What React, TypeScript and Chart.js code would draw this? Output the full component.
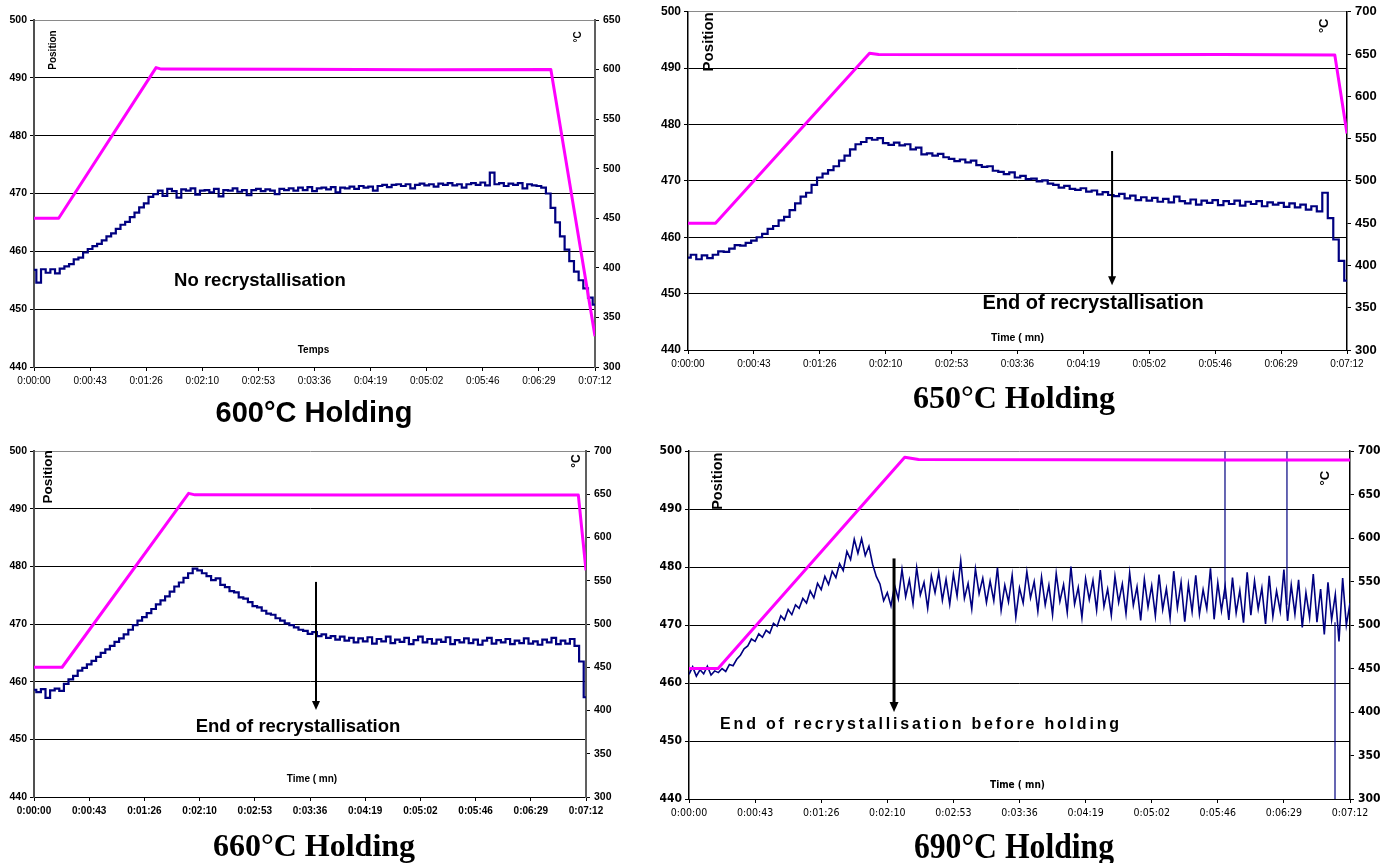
import React, { useEffect, useRef } from "react";
import { Chart, registerables } from "chart.js";

Chart.register(...registerables);

const SANS = "'Liberation Sans', Arial, Helvetica, sans-serif";
const NARROW = "'Liberation Sans Narrow', 'DejaVu Sans Condensed', 'Liberation Sans', sans-serif";
const SERIF = "'Liberation Serif', 'Times New Roman', serif";
const NAVY = "#000080";
const MAGENTA = "#FF00FF";

// ---------- shared axis data ----------
const X_TICK_SECONDS = [0, 43.2, 86.4, 129.6, 172.8, 216, 259.2, 302.4, 345.6, 388.8, 432];
const X_TICK_LABELS = ["0:00:00", "0:00:43", "0:01:26", "0:02:10", "0:02:53", "0:03:36", "0:04:19", "0:05:02", "0:05:46", "0:06:29", "0:07:12"];
const POSITION_TICKS = [440, 450, 460, 470, 480, 490, 500];
const TEMP_TICKS_650 = [300, 350, 400, 450, 500, 550, 600, 650];
const TEMP_TICKS_700 = [300, 350, 400, 450, 500, 550, 600, 650, 700];

// ---------- 600 °C holding ----------
const P600_STEP_S = 3.6;
const P600_POSITION = [
  456.8, 454.6, 456.9, 456.3, 456.9, 456.2, 457.0, 457.4, 457.8, 458.6,
  458.9, 459.8, 460.4, 460.9, 461.3, 461.9, 462.6, 463.1, 463.9, 464.6,
  465.1, 465.9, 466.7, 467.6, 468.3, 469.4, 469.9, 470.5, 469.6, 470.8,
  470.4, 469.3, 470.7, 470.5, 470.9, 469.8, 470.5, 470.6, 470.2, 470.8,
  469.5, 470.6, 470.5, 470.9, 470.3, 470.6, 469.7, 470.6, 470.8, 470.4,
  470.7, 470.5, 469.9, 470.8, 470.6, 470.9, 470.5, 471.0, 470.6, 471.1,
  470.4, 470.9, 471.0, 470.7, 471.1, 470.2, 471.0, 470.9, 471.2, 470.8,
  471.3, 471.0, 471.2, 470.5, 471.3, 471.5, 471.1, 471.5, 471.6, 471.3,
  471.6, 470.9, 471.5, 471.7, 471.4, 471.6, 471.2, 471.7, 471.5, 471.8,
  471.4, 471.6, 471.0, 471.6, 471.8, 471.5, 471.9, 471.4, 473.6, 471.6,
  471.8, 471.3, 471.7, 471.5, 471.8, 470.9, 471.6, 471.4, 471.3, 471.0,
  470.0, 467.5, 465.0, 462.6, 460.3, 458.3, 456.5, 455.0, 453.6, 452.0,
  450.8,
];
const P600_TEMP_TIME = [0, 19, 94, 98, 200, 300, 398, 432];
const P600_TEMP = [450, 450, 602, 600.5, 600.3, 599.8, 600, 331];

// ---------- 650 °C holding ----------
const P650_STEP_S = 3.6;
const P650_POSITION = [
  456.4, 456.9, 456.1, 456.8, 456.3, 456.9, 457.5, 457.4, 458.0, 458.6,
  458.5, 459.0, 459.4, 460.0, 460.6, 461.5, 462.0, 463.0, 463.6, 464.8,
  466.0, 467.2, 467.9, 469.3, 470.6, 471.3, 471.9, 472.6, 473.6, 474.5,
  475.6, 476.5, 476.9, 477.6, 477.3, 477.6, 476.7, 476.4, 476.8, 476.3,
  476.5, 475.6, 475.9, 474.7, 474.9, 474.5, 474.8, 474.2, 473.9, 473.5,
  473.8, 473.3, 473.6, 472.8, 472.5, 472.6, 471.8, 471.6, 471.2, 471.5,
  470.6, 470.9, 470.3, 470.4, 469.9, 470.1, 469.5, 469.3, 468.8, 469.1,
  468.6, 468.4, 468.7, 468.1, 468.3, 467.6, 468.0, 467.5, 467.3, 467.7,
  466.9, 467.4, 466.6, 467.1, 466.5, 467.0, 466.3, 466.8, 466.2, 467.2,
  466.4, 466.0, 466.7, 465.8, 466.5, 466.1, 466.6, 465.7, 466.4, 465.9,
  466.5, 465.6, 466.3, 465.9, 466.4, 465.5, 466.2, 465.8, 466.1, 465.4,
  466.0, 465.3, 465.8, 464.9, 465.5, 464.6, 467.9, 463.4, 459.6, 455.8,
  452.3,
];
const P650_TEMP_TIME = [0, 18, 119, 125, 250, 350, 424, 432];
const P650_TEMP = [450, 450, 651, 649.5, 649.3, 649.6, 649, 556];

// ---------- 660 °C holding ----------
const P660_STEP_S = 3.6;
const P660_POSITION = [
  458.6, 458.2, 458.7, 457.2, 458.5, 458.8, 458.4, 459.6, 460.4, 461.0,
  461.9, 462.4, 463.0, 463.6, 464.3, 465.0, 465.6, 466.2, 466.9, 467.5,
  468.2, 469.0, 469.8, 470.6, 471.2, 471.9, 472.6, 473.4, 474.1, 474.8,
  475.6, 476.5, 477.2, 478.0, 478.8, 479.6, 479.3, 478.8, 478.3, 477.6,
  477.9, 476.8, 476.4, 475.7, 475.5, 474.6, 474.4, 473.8, 473.1, 472.9,
  472.3, 471.8, 471.6, 471.0, 470.6, 470.1, 469.8, 469.4, 469.0, 468.8,
  468.3, 468.6, 467.9, 468.2, 467.6, 467.9, 467.3, 467.8, 467.1, 467.6,
  466.8, 467.5, 467.0, 467.7, 466.6, 467.4, 467.0, 467.8, 466.7, 467.3,
  466.9, 467.6, 466.5, 467.2, 467.8, 466.8, 467.4, 466.6, 467.3, 466.9,
  467.7, 466.5, 467.2, 466.8, 467.5, 466.7, 467.3, 466.4, 467.1, 467.6,
  466.6, 467.2, 466.8, 467.4, 466.5, 467.1, 466.7, 467.5, 466.6, 467.0,
  466.4, 467.3, 466.8, 467.6, 466.5, 467.1, 466.6, 467.4, 466.2, 463.5,
  457.3,
];
const P660_TEMP_TIME = [0, 22, 121, 126, 250, 350, 426, 432];
const P660_TEMP = [450, 450, 651, 649.3, 649, 649.2, 649, 562];

// ---------- 690 °C holding ----------
const P690_STEP_S = 2.4;
const P690_POSITION = [
  461.5, 462.8, 461.2, 462.3, 461.6, 462.9, 461.4, 462.1, 461.8, 462.5,
  462.0, 463.2, 463.0, 464.1, 464.8, 465.9, 466.4, 467.6, 467.2, 468.5,
  467.9, 469.1, 468.6, 470.3, 469.8, 471.6, 470.9, 472.7, 471.8, 473.5,
  472.9, 474.6, 473.8, 475.9, 474.7, 477.2, 476.1, 478.4, 477.0, 479.3,
  478.2, 480.6, 479.4, 482.7, 481.3, 484.8, 482.4, 484.9, 482.0, 483.6,
  480.5, 478.4, 477.1, 474.2, 475.6, 473.3, 476.8, 474.5, 479.6, 474.9,
  477.8, 473.7, 479.9, 475.2, 477.4, 472.9, 478.5, 475.6, 479.1, 474.3,
  477.9, 473.6, 478.8, 475.0, 481.1, 474.6, 477.2, 472.8, 479.7, 475.4,
  478.1, 473.9, 477.6, 474.2, 479.9, 472.6, 476.9, 474.0, 478.6, 471.4,
  476.4, 473.8, 479.2, 474.7, 477.5, 472.4, 478.3, 473.5, 476.9, 471.8,
  478.9, 474.1, 477.0, 472.2, 480.1, 473.6, 476.5, 471.3, 478.0, 474.4,
  477.7, 472.6, 479.5, 473.2, 476.2, 471.7, 478.4, 473.9, 477.1, 472.0,
  479.0, 473.4, 476.6, 470.8, 477.9, 473.1, 476.8, 471.6, 478.7, 472.7,
  476.3, 471.2, 479.3, 473.0, 477.4, 470.6, 477.0, 472.3, 478.6, 471.9,
  476.1, 472.8, 479.8, 471.0, 477.3, 472.5, 476.7, 470.9, 478.2, 472.1,
  476.0, 470.4, 479.1, 471.7, 477.6, 472.8, 476.4, 470.2, 478.5, 471.5,
  475.9, 472.4, 479.6, 470.7, 476.9, 471.9, 477.8, 469.6, 475.6, 471.3,
  478.8, 470.5, 476.2, 468.4, 477.4, 470.9, 475.3, 467.2, 478.1, 470.0,
  473.8,
];
const P690_SPIKE_TIME = [350.3, 390.8, 422.2];
const P690_SPIKE_FROM = [474.5, 473.5, 470.5];
const P690_SPIKE_TO = [504, 504, 436];
const P690_TEMP_TIME = [0, 19, 141, 150, 250, 350, 432];
const P690_TEMP = [450, 450, 693, 690.5, 690.2, 690, 690];

// ---------- panel descriptions ----------
type Lab = { text: string; ax: "left" | "right" | "center"; ay: "top" | "bottom"; dx: number; dy: number; rot: boolean; font: string };
type PanelCfg = {
  key: string;
  box: { x: number; y: number; w: number; h: number };
  leftW: number; rightW: number; padTop: number; bottomH: number;
  tempTicks: number[];
  step: number; position: number[];
  tempTime: number[]; temp: number[];
  spikes?: { t: number[]; from: number[]; to: number[] };
  leftFont: any; rightFont: any; xFont: any;
  leftBorder: string; leftBorderW: number; rightBorder: string; rightBorderW: number;
  blueWidth: number; blueStepped: boolean;
  labels: Lab[];
  arrow?: { t: number; from: number; to: number; width: number; head: number; headW: number };
  note: { text: string; t: number; v: number; font: string; spacing?: string };
};

const PANELS: PanelCfg[] = [
  {
    key: "p600",
    box: { x: 0, y: 0, w: 640, h: 400 },
    leftW: 34, rightW: 45, padTop: 20, bottomH: 33,
    tempTicks: TEMP_TICKS_650,
    step: P600_STEP_S, position: P600_POSITION,
    tempTime: P600_TEMP_TIME, temp: P600_TEMP,
    leftFont: { family: SANS, size: 10.5, weight: "bold" },
    rightFont: { family: SANS, size: 10.5, weight: "bold" },
    xFont: { family: SANS, size: 10, weight: "normal" },
    leftBorder: "#505050", leftBorderW: 2, rightBorder: "#606060", rightBorderW: 2,
    blueWidth: 2.2, blueStepped: true,
    labels: [
      { text: "Position", ax: "left", ay: "top", dx: 19, dy: 30, rot: true, font: `bold 10px ${SANS}` },
      { text: "°C", ax: "right", ay: "top", dx: -17, dy: 17, rot: true, font: `bold 10px ${SANS}` },
      { text: "Temps", ax: "center", ay: "bottom", dx: -1, dy: -17, rot: false, font: `bold 10px ${SANS}` },
    ],
    note: { text: "No recrystallisation", t: 174, v: 454.9, font: `bold 18.5px ${SANS}` },
  },
  {
    key: "p650",
    box: { x: 640, y: 0, w: 754, h: 385 },
    leftW: 48, rightW: 47, padTop: 10, bottomH: 35,
    tempTicks: TEMP_TICKS_700,
    step: P650_STEP_S, position: P650_POSITION,
    tempTime: P650_TEMP_TIME, temp: P650_TEMP,
    leftFont: { family: SANS, size: 12, weight: "bold" },
    rightFont: { family: SANS, size: 13, weight: "bold" },
    xFont: { family: SANS, size: 10, weight: "normal" },
    leftBorder: "#000000", leftBorderW: 1.5, rightBorder: "#000000", rightBorderW: 1.5,
    blueWidth: 2.2, blueStepped: true,
    labels: [
      { text: "Position", ax: "left", ay: "top", dx: 21, dy: 30, rot: true, font: `bold 15px ${SANS}` },
      { text: "°C", ax: "right", ay: "top", dx: -23, dy: 14, rot: true, font: `bold 13px ${SANS}` },
      { text: "Time ( mn)", ax: "center", ay: "bottom", dx: 0, dy: -12, rot: false, font: `bold 10.5px ${SANS}` },
    ],
    arrow: { t: 278, from: 475.3, to: 451.5, width: 2, head: 9, headW: 8 },
    note: { text: "End of recrystallisation", t: 265.5, v: 448.3, font: `bold 20px ${SANS}` },
  },
  {
    key: "p660",
    box: { x: 0, y: 440, w: 640, h: 390 },
    leftW: 34, rightW: 54, padTop: 11, bottomH: 33,
    tempTicks: TEMP_TICKS_700,
    step: P660_STEP_S, position: P660_POSITION,
    tempTime: P660_TEMP_TIME, temp: P660_TEMP,
    leftFont: { family: SANS, size: 10.5, weight: "bold" },
    rightFont: { family: SANS, size: 10.5, weight: "bold" },
    xFont: { family: SANS, size: 10, weight: "bold" },
    leftBorder: "#505050", leftBorderW: 2, rightBorder: "#606060", rightBorderW: 2,
    blueWidth: 2.2, blueStepped: true,
    labels: [
      { text: "Position", ax: "left", ay: "top", dx: 14, dy: 26, rot: true, font: `bold 13.5px ${SANS}` },
      { text: "°C", ax: "right", ay: "top", dx: -9, dy: 10, rot: true, font: `bold 12px ${SANS}` },
      { text: "Time ( mn)", ax: "center", ay: "bottom", dx: 2, dy: -18, rot: false, font: `bold 10px ${SANS}` },
    ],
    arrow: { t: 220.7, from: 477.3, to: 455.1, width: 2, head: 9, headW: 8 },
    note: { text: "End of recrystallisation", t: 206.6, v: 452.2, font: `bold 18.5px ${SANS}` },
  },
  {
    key: "p690",
    box: { x: 640, y: 440, w: 754, h: 392 },
    leftW: 49, rightW: 44, padTop: 11, bottomH: 33,
    tempTicks: TEMP_TICKS_700,
    step: P690_STEP_S, position: P690_POSITION,
    tempTime: P690_TEMP_TIME, temp: P690_TEMP,
    spikes: { t: P690_SPIKE_TIME, from: P690_SPIKE_FROM, to: P690_SPIKE_TO },
    leftFont: { family: NARROW, size: 12, weight: "bold" },
    rightFont: { family: NARROW, size: 12, weight: "bold" },
    xFont: { family: NARROW, size: 10.5, weight: "normal" },
    leftBorder: "#000000", leftBorderW: 1.5, rightBorder: "#000000", rightBorderW: 1.5,
    blueWidth: 1.6, blueStepped: false,
    labels: [
      { text: "Position", ax: "left", ay: "top", dx: 29, dy: 30, rot: true, font: `bold 14.5px ${SANS}` },
      { text: "°C", ax: "right", ay: "top", dx: -25, dy: 27, rot: true, font: `bold 13px ${SANS}` },
      { text: "Time ( mn)", ax: "center", ay: "bottom", dx: -2, dy: -14, rot: false, font: `bold 10px ${NARROW}` },
    ],
    arrow: { t: 134, from: 481.5, to: 455, width: 3, head: 10, headW: 9 },
    note: { text: "End of recrystallisation before holding", t: 151.6, v: 452.9, font: `bold 16px ${SANS}`, spacing: "2.8px" },
  },
];

const TITLES = [
  { text: "600°C Holding", cx: 314, cy: 412, font: `bold 29px ${SANS}`, scaleX: 1 },
  { text: "650°C Holding", cx: 1014, cy: 397, font: `bold 32px ${SERIF}`, scaleX: 1 },
  { text: "660°C Holding", cx: 314, cy: 845, font: `bold 32px ${SERIF}`, scaleX: 1 },
  { text: "690°C Holding", cx: 1014, cy: 846, font: `bold 36px ${SERIF}`, scaleX: 0.88 },
];

function overlayPlugin(cfg: PanelCfg) {
  return {
    id: "overlay_" + cfg.key,
    afterDatasetsDraw(chart: any) {
      const { ctx, chartArea: a, scales } = chart;
      const xs = scales.x;
      const ys = scales.y;
      ctx.save();
      ctx.fillStyle = "#000";
      ctx.strokeStyle = "#000";
      for (const lab of cfg.labels) {
        const ax = lab.ax === "left" ? a.left : lab.ax === "right" ? a.right : (a.left + a.right) / 2;
        const ay = lab.ay === "top" ? a.top : a.bottom;
        ctx.save();
        ctx.translate(ax + lab.dx, ay + lab.dy);
        if (lab.rot) ctx.rotate(-Math.PI / 2);
        ctx.font = lab.font;
        ctx.textAlign = "center";
        ctx.textBaseline = "middle";
        ctx.fillText(lab.text, 0, 0);
        ctx.restore();
      }
      if (cfg.arrow) {
        const ar = cfg.arrow;
        const x = xs.getPixelForValue(ar.t);
        const y0 = ys.getPixelForValue(ar.from);
        const y1 = ys.getPixelForValue(ar.to);
        ctx.lineWidth = ar.width;
        ctx.beginPath();
        ctx.moveTo(x, y0);
        ctx.lineTo(x, y1 - ar.head + 1);
        ctx.stroke();
        ctx.beginPath();
        ctx.moveTo(x - ar.headW / 2, y1 - ar.head);
        ctx.lineTo(x + ar.headW / 2, y1 - ar.head);
        ctx.lineTo(x, y1);
        ctx.closePath();
        ctx.fill();
      }
      const n = cfg.note;
      ctx.font = n.font;
      (ctx as any).letterSpacing = n.spacing || "0px";
      ctx.textAlign = "center";
      ctx.textBaseline = "middle";
      ctx.fillText(n.text, xs.getPixelForValue(n.t), ys.getPixelForValue(n.v));
      ctx.restore();
    },
  };
}

function buildConfig(cfg: PanelCfg): any {
  const blue = cfg.position.map((v, i) => ({ x: i * cfg.step, y: v }));
  const temp = cfg.tempTime.map((t, i) => ({ x: t, y: cfg.temp[i] }));
  const datasets: any[] = [
    {
      label: "°C", data: temp, yAxisID: "y2", borderColor: MAGENTA, borderWidth: 3,
      pointRadius: 0, tension: 0, order: 0, borderJoinStyle: "round",
    },
    {
      label: "Position", data: blue, yAxisID: "y", borderColor: NAVY, borderWidth: cfg.blueWidth,
      pointRadius: 0, tension: 0, order: 1, stepped: cfg.blueStepped ? "middle" : false,
    },
  ];
  if (cfg.spikes) {
    cfg.spikes.t.forEach((t, i) => {
      datasets.push({
        label: "spike" + i,
        data: [{ x: t, y: cfg.spikes!.from[i] }, { x: t, y: cfg.spikes!.to[i] }],
        yAxisID: "y", borderColor: NAVY, borderWidth: 1.2, pointRadius: 0, order: 2,
      });
    });
  }
  const tickList = (arr: number[]) => (s: any) => {
    s.ticks = arr.map((v) => ({ value: v }));
  };
  return {
    type: "line",
    data: { datasets },
    options: {
      responsive: false,
      maintainAspectRatio: false,
      animation: false,
      events: [],
      layout: { padding: { top: cfg.padTop, left: 0, right: 0, bottom: 0 } },
      plugins: { legend: { display: false }, tooltip: { enabled: false }, title: { display: false } },
      scales: {
        x: {
          type: "linear", position: "bottom", min: 0, max: 432,
          afterBuildTicks: tickList(X_TICK_SECONDS),
          afterFit: (s: any) => { s.height = cfg.bottomH; },
          ticks: {
            autoSkip: false, maxRotation: 0, minRotation: 0, padding: 4, color: "#000",
            font: cfg.xFont, callback: (_v: any, i: number) => X_TICK_LABELS[i],
          },
          grid: { drawOnChartArea: false, drawTicks: true, tickLength: 4, color: "#000", lineWidth: 1 },
          border: { display: true, color: "#000", width: 1 },
        },
        y: {
          type: "linear", position: "left", min: 440, max: 500,
          afterBuildTicks: tickList(POSITION_TICKS),
          afterFit: (s: any) => { s.width = cfg.leftW; },
          ticks: { padding: 3, color: "#000", font: cfg.leftFont, autoSkip: false },
          grid: {
            drawOnChartArea: true, drawTicks: true, tickLength: 4, lineWidth: 1,
            color: (c: any) => (c.tick && c.tick.value === 500 ? "#8a8a8a" : "#000"),
            tickColor: "#000",
          },
          border: { display: true, color: cfg.leftBorder, width: cfg.leftBorderW },
        },
        y2: {
          type: "linear", position: "right", min: 300, max: cfg.tempTicks[cfg.tempTicks.length - 1],
          afterBuildTicks: tickList(cfg.tempTicks),
          afterFit: (s: any) => { s.width = cfg.rightW; },
          ticks: { padding: 4, color: "#000", font: cfg.rightFont, autoSkip: false },
          grid: { drawOnChartArea: false, drawTicks: true, tickLength: 4, color: "#000", lineWidth: 1 },
          border: { display: true, color: cfg.rightBorder, width: cfg.rightBorderW },
        },
      },
    },
    plugins: [overlayPlugin(cfg)],
  };
}

function Panel({ cfg }: { cfg: PanelCfg }) {
  const ref = useRef<HTMLCanvasElement | null>(null);
  useEffect(() => {
    if (!ref.current) return;
    const chart = new Chart(ref.current, buildConfig(cfg));
    return () => chart.destroy();
  }, [cfg]);
  return (
    <canvas
      ref={ref}
      width={cfg.box.w}
      height={cfg.box.h}
      style={{ position: "absolute", left: cfg.box.x, top: cfg.box.y, width: cfg.box.w, height: cfg.box.h }}
    />
  );
}

export default function App() {
  return (
    <div style={{ position: "absolute", left: 0, top: 0, width: 1394, height: 863, background: "#fff", overflow: "hidden" }}>
      {PANELS.map((p) => (
        <Panel key={p.key} cfg={p} />
      ))}
      {TITLES.map((t) => (
        <div
          key={t.text}
          style={{
            position: "absolute", left: t.cx - 200, top: 0, width: 400, textAlign: "center",
            font: t.font, lineHeight: "1", color: "#000", whiteSpace: "nowrap",
            transform: `translateY(${t.cy}px) translateY(-50%) scaleX(${t.scaleX})`,
            transformOrigin: "center center",
          }}
        >
          {t.text}
        </div>
      ))}
    </div>
  );
}
